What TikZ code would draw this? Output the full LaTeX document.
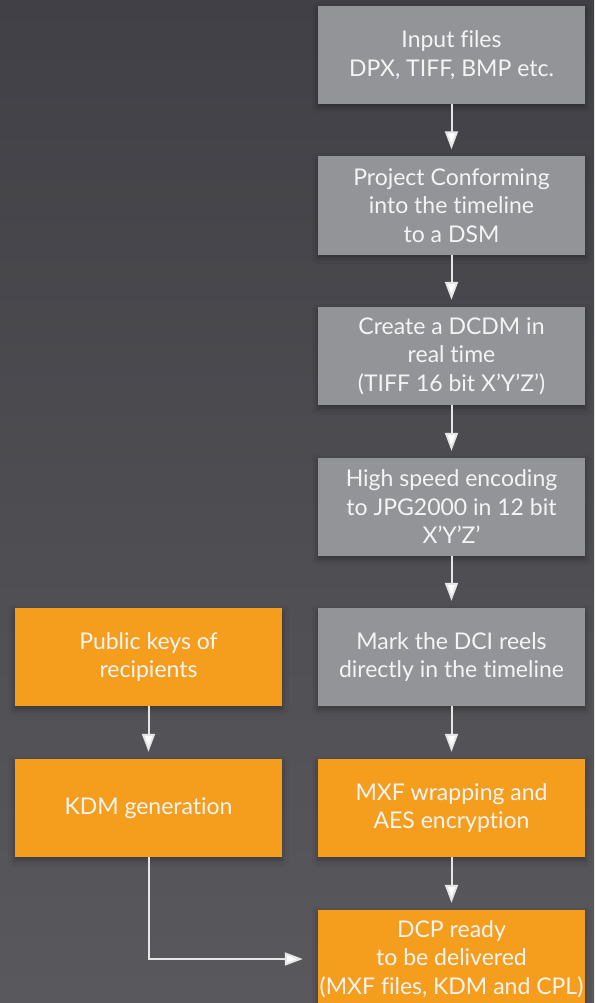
\documentclass[tikz,border=0pt]{standalone}
\usepackage{fontspec}
\setmainfont{Lato}[Ligatures={NoCommon}]
\usetikzlibrary{arrows.meta,shadows.blur}
\definecolor{bgtop}{HTML}{414046}
\definecolor{bgbot}{HTML}{59595D}
\definecolor{boxgray}{HTML}{939497}
\definecolor{boxorange}{HTML}{F59E1E}
\definecolor{txt}{HTML}{F4F4F4}
\definecolor{linec}{HTML}{E6E6E6}
\tikzset{
  box/.style={minimum width=267pt, minimum height=98pt, inner sep=0pt,
    align=center, text=txt, font=\fontsize{23}{28.5}\selectfont,
    blur shadow={shadow xshift=0pt, shadow yshift=-3pt, shadow blur radius=6pt, shadow opacity=35}},
  graybox/.style={box, fill=boxgray},
  orangebox/.style={box, fill=boxorange},
  flow/.style={draw=linec, line width=2pt, -{Triangle[length=18pt,width=13pt,fill=white]}, shorten >=7pt}
}
\begin{document}
\begin{tikzpicture}[x=1pt,y=-1pt]
\useasboundingbox (0,0) rectangle (594,1003);
\shade[top color=bgtop, bottom color=bgbot] (0,0) rectangle (594,1003);
\begin{scope}
\clip (0,0) rectangle (594,1003);
\node[graybox] (input) at (451.5,55) {Input files\\DPX, TIFF, BMP etc.};
\node[graybox] (conform) at (451.5,205.5) {Project Conforming\\into the timeline\\to a DSM};
\node[graybox] (dcdm) at (451.5,356) {Create a DCDM in\\real time\\(TIFF 16 bit X'Y'Z')};
\node[graybox] (encode) at (451.5,507) {High speed encoding\\to JPG2000 in 12 bit\\X'Y'Z'};
\node[graybox] (mark) at (451.5,657) {Mark the DCI reels\\directly in the timeline};
\node[orangebox] (mxf) at (451.5,808) {MXF wrapping and\\AES encryption};
\node[orangebox] (dcp) at (451.5,959) {DCP ready\\to be delivered\\(MXF files, KDM and CPL)};
\node[orangebox] (keys) at (148.5,657) {Public keys of\\recipients};
\node[orangebox] (kdm) at (148.5,808) {KDM generation};
\draw[flow] (input) -- (conform);
\draw[flow] (conform) -- (dcdm);
\draw[flow] (dcdm) -- (encode);
\draw[flow] (encode) -- (mark);
\draw[flow] (mark) -- (mxf);
\draw[flow] (mxf) -- (dcp);
\draw[flow] (keys) -- (kdm);
\coordinate (bend) at (148.5,959);
\draw[flow, shorten >=15pt] (kdm.south) -- (bend) -- (dcp.west);
\end{scope}
\end{tikzpicture}
\end{document}
